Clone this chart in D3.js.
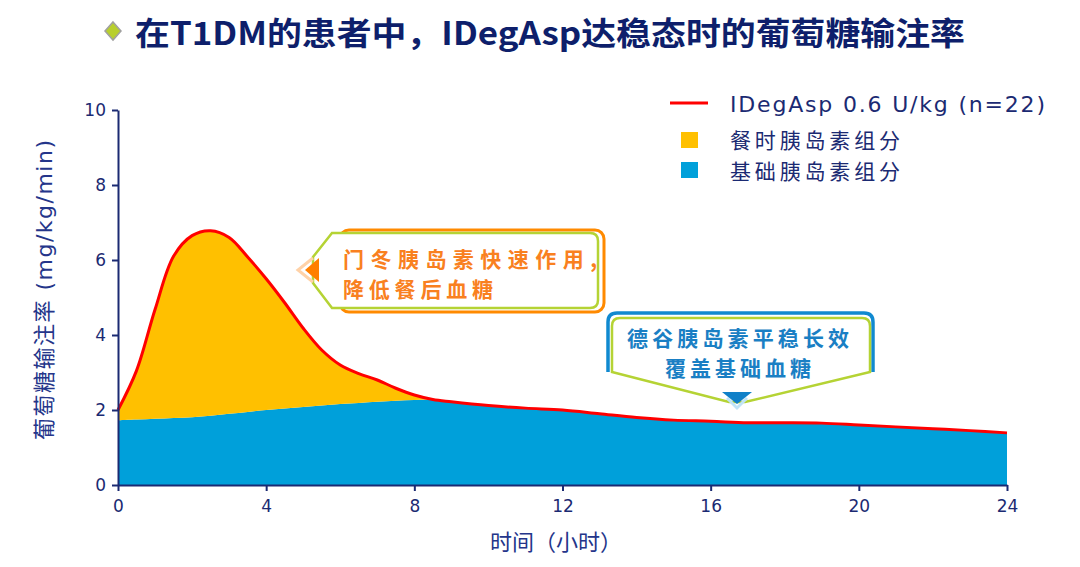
<!DOCTYPE html>
<html>
<head>
<meta charset="utf-8">
<script src="https://cdn.jsdelivr.net/npm/d3@7"></script>
<style>
  body { margin: 0; background: #fff; }
  svg { display: block; }
</style>
</head>
<body>
<div id="chart"></div>
<script>
// data
var hours = [0, 0.5, 1, 1.5, 2, 2.5, 3, 3.5, 4, 4.5, 5, 5.5, 6, 6.5, 7, 7.5, 8, 8.5, 9, 10, 11, 12, 13, 14, 15, 16, 17, 18, 19, 20, 21, 22, 23, 24];
var totalGIR = [2.0, 3.05, 4.68, 6.1, 6.65, 6.78, 6.6, 6.08, 5.5, 4.86, 4.18, 3.6, 3.2, 2.97, 2.8, 2.58, 2.4, 2.28, 2.22, 2.12, 2.05, 2.0, 1.9, 1.8, 1.73, 1.7, 1.66, 1.66, 1.65, 1.6, 1.55, 1.5, 1.45, 1.39];
var basalGIR = [1.73, 1.75, 1.77, 1.79, 1.81, 1.85, 1.9, 1.95, 2.0, 2.04, 2.08, 2.12, 2.16, 2.19, 2.22, 2.25, 2.27, 2.28, 2.22, 2.12, 2.05, 2.0, 1.9, 1.8, 1.73, 1.7, 1.66, 1.66, 1.65, 1.6, 1.55, 1.5, 1.45, 1.39];
var xTicks = [0, 4, 8, 12, 16, 20, 24];
var yTicks = [0, 2, 4, 6, 8, 10];
var legendLabels = ["IDegAsp 0.6 U/kg (n=22)", "餐时胰岛素组分", "基础胰岛素组分"];

var navy = "#1b2a72";
var cjk = "'Noto Sans CJK SC', 'Noto Sans', sans-serif";
var latin = "'DejaVu Sans', Verdana, sans-serif";

var svg = d3.select("#chart").append("svg")
    .attr("width", 1080)
    .attr("height", 567);

var margin = {top: 110, right: 73, bottom: 82, left: 118},
    width = 1080 - margin.left - margin.right,
    height = 567 - margin.top - margin.bottom,
    g = svg.append("g").attr("transform", "translate(" + margin.left + "," + margin.top + ")");

var x = d3.scaleLinear().domain([0, 24]).range([0, width]);
var y = d3.scaleLinear().domain([0, 10]).range([height, 0]);

var rows = hours.map(function(h, i) {
  return {h: h, total: totalGIR[i], basal: basalGIR[i]};
});

var curve = d3.curveCatmullRom.alpha(0.5);

// basal component
g.append("path")
    .datum(rows)
    .attr("fill", "#00a0da")
    .attr("d", d3.area().curve(curve)
        .x(function(d) { return x(d.h); })
        .y0(y(0))
        .y1(function(d) { return y(d.basal); }));

// prandial component
g.append("path")
    .datum(rows)
    .attr("fill", "#ffc000")
    .attr("d", d3.area().curve(curve)
        .x(function(d) { return x(d.h); })
        .y0(function(d) { return y(d.basal); })
        .y1(function(d) { return y(d.total); }));

// total line
g.append("path")
    .datum(rows)
    .attr("fill", "none")
    .attr("stroke", "#ff0000")
    .attr("stroke-width", 3)
    .attr("d", d3.line().curve(curve)
        .x(function(d) { return x(d.h); })
        .y(function(d) { return y(d.total); }));

// axes
var xAxis = g.append("g")
    .attr("transform", "translate(0," + height + ")")
    .call(d3.axisBottom(x).tickValues(xTicks).tickSize(6).tickPadding(9).tickSizeOuter(0));
var yAxis = g.append("g")
    .call(d3.axisLeft(y).tickValues(yTicks).tickSize(6).tickPadding(6).tickSizeOuter(0));

[xAxis, yAxis].forEach(function(a) {
  a.select(".domain").attr("stroke", navy).attr("stroke-width", 2);
  a.selectAll(".tick line").attr("stroke", navy).attr("stroke-width", 2);
  a.selectAll(".tick text")
      .attr("fill", navy)
      .style("font-family", latin)
      .style("font-size", "17px");
});

// axis titles
var yTitle = svg.append("text")
    .attr("transform", "translate(52,290) rotate(-90)")
    .attr("text-anchor", "middle")
    .attr("fill", "#24358a")
    .style("font-size", "22px")
    .attr("textLength", 300)
    .attr("lengthAdjust", "spacing");
yTitle.append("tspan").style("font-family", cjk).text("葡萄糖输注率");
yTitle.append("tspan").style("font-family", latin).text(" (mg/kg/min)");

svg.append("text")
    .attr("x", 556)
    .attr("y", 550)
    .attr("text-anchor", "middle")
    .attr("fill", "#24358a")
    .style("font-family", cjk)
    .style("font-size", "22px")
    .text("时间（小时）");

// title
svg.append("path")
    .attr("d", "M113,22 L121,31 L113,40 L105,31 Z")
    .attr("fill", "#b8cf2e")
    .attr("stroke", "#a0a0a0")
    .attr("stroke-width", 1.5);

svg.append("text")
    .attr("x", 135)
    .attr("y", 45)
    .attr("fill", "#0e1f6b")
    .attr("textLength", 830)
    .attr("lengthAdjust", "spacingAndGlyphs")
    .style("font-family", cjk)
    .style("font-weight", "bold")
    .style("font-size", "32px")
    .text("在T1DM的患者中，IDegAsp达稳态时的葡萄糖输注率");

// legend
var legend = svg.append("g");
legend.append("line")
    .attr("x1", 670).attr("x2", 708)
    .attr("y1", 103).attr("y2", 103)
    .attr("stroke", "#ff0000").attr("stroke-width", 3);
legend.append("rect")
    .attr("x", 681).attr("y", 132).attr("width", 17).attr("height", 16)
    .attr("fill", "#ffc000");
legend.append("rect")
    .attr("x", 681).attr("y", 162).attr("width", 17).attr("height", 16)
    .attr("fill", "#00a0da");
[104, 140, 171].forEach(function(cy, i) {
  legend.append("text")
      .attr("x", 730)
      .attr("y", cy)
      .attr("dy", "0.36em")
      .attr("fill", navy)
      .style("font-family", i === 0 ? latin : cjk)
      .style("font-size", i === 0 ? "22px" : "21px")
      .attr("textLength", i === 0 ? 315 : 170)
      .attr("lengthAdjust", "spacing")
      .text(legendLabels[i]);
});

// callout 1: rapid-acting aspart
var c1 = svg.append("g");
c1.append("rect")
    .attr("x", 340).attr("y", 230).attr("width", 264).attr("height", 82).attr("rx", 9)
    .attr("fill", "none").attr("stroke", "#ff8a00").attr("stroke-width", 3);
c1.append("path")
    .attr("d", "M332,233 L590,233 Q598,233 598,241 L598,300 Q598,308 590,308 L332,308 L313,283 L313,257 Z")
    .attr("fill", "#fff").attr("stroke", "#b5d334").attr("stroke-width", 2.5);
c1.append("path")
    .attr("d", "M313,258 L298,270 L313,282")
    .attr("fill", "none").attr("stroke", "#ffd2a8").attr("stroke-width", 3);
c1.append("path")
    .attr("d", "M319,258 L305,270 L319,282 Z")
    .attr("fill", "#ff7f00");
c1.append("text")
    .attr("x", 343).attr("y", 267)
    .attr("fill", "#f98020")
    .attr("textLength", 254).attr("lengthAdjust", "spacing")
    .style("font-family", cjk).style("font-weight", "bold").style("font-size", "21px")
    .text("门冬胰岛素快速作用,");
c1.append("text")
    .attr("x", 343).attr("y", 297)
    .attr("fill", "#f98020")
    .attr("textLength", 150).attr("lengthAdjust", "spacing")
    .style("font-family", cjk).style("font-weight", "bold").style("font-size", "21px")
    .text("降低餐后血糖");

// callout 2: basal degludec
var c2 = svg.append("g");
c2.append("path")
    .attr("d", "M608,372 L608,322 Q608,313 617,313 L864,313 Q873,313 873,322 L873,372")
    .attr("fill", "none").attr("stroke", "#1089d0").attr("stroke-width", 3.5);
c2.append("path")
    .attr("d", "M612,372 L612,326 Q612,318 620,318 L862,318 Q870,318 870,326 L870,372 L745,402 L729,402 Z")
    .attr("fill", "#fff").attr("stroke", "#b5d334").attr("stroke-width", 2.5);
c2.append("path")
    .attr("d", "M727,398 L737,408 L747,398")
    .attr("fill", "none").attr("stroke", "#bfe3f7").attr("stroke-width", 3);
c2.append("path")
    .attr("d", "M722,392 L752,392 L737,404 Z")
    .attr("fill", "#1080c8");
c2.append("text")
    .attr("x", 738).attr("y", 346)
    .attr("text-anchor", "middle")
    .attr("fill", "#1a7fc4")
    .attr("textLength", 222).attr("lengthAdjust", "spacing")
    .style("font-family", cjk).style("font-weight", "bold").style("font-size", "21px")
    .text("德谷胰岛素平稳长效");
c2.append("text")
    .attr("x", 738).attr("y", 376)
    .attr("text-anchor", "middle")
    .attr("fill", "#1a7fc4")
    .attr("textLength", 146).attr("lengthAdjust", "spacing")
    .style("font-family", cjk).style("font-weight", "bold").style("font-size", "21px")
    .text("覆盖基础血糖");
</script>
</body>
</html>
